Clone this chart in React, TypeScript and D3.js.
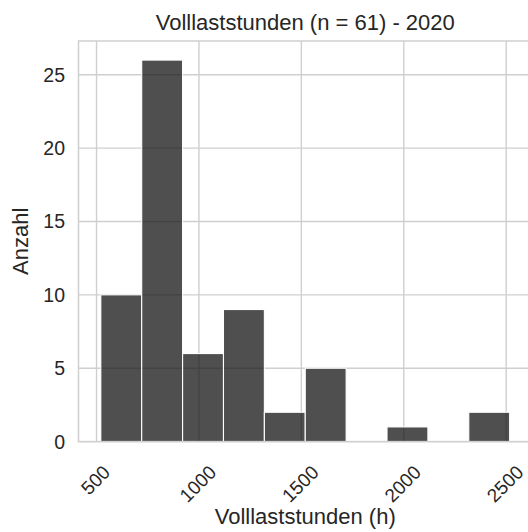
import React from "react";
import * as d3 from "d3";

// ---- data ----
const titleText = "Volllaststunden (n = 61) - 2020";
const xLabel = "Volllaststunden (h)";
const yLabel = "Anzahl";
const binStart = 521; // h
const binWidth = 199.6; // h
const counts = [10, 26, 6, 9, 2, 5, 0, 1, 0, 2];
const xTicks = [500, 1000, 1500, 2000, 2500];
const yTicks = [0, 5, 10, 15, 20, 25];
const xDomain = [412, 2626];
const yDomain = [0, 27.3];

const W = 528;
const H = 532;
const FONT = "'Liberation Sans', Arial, Helvetica, sans-serif";
const TEXT = "#262626";
const GRID = "#cfcfcf";

export default function App() {
  const left = 78.5;
  const right = 532;
  const top = 41;
  const bottom = 441.6;
  const x = d3.scaleLinear().domain(xDomain).range([left, right]);
  const y = d3.scaleLinear().domain(yDomain).range([bottom, top]);

  const bins = counts.map((c, i) => ({
    x0: binStart + i * binWidth,
    x1: binStart + (i + 1) * binWidth,
    c,
  }));

  const tickFs = 19;
  const yTickFs = 19.5;
  const labelFs = 22;

  return (
    <svg
      width={W}
      height={H}
      style={{ position: "absolute", left: 0, top: 0, background: "#fff" }}
      fontFamily={FONT}
    >
      <rect x={0} y={0} width={W} height={H} fill="#fff" />
      {/* grid */}
      {xTicks.map((t) => (
        <line key={"gx" + t} x1={x(t)} x2={x(t)} y1={top} y2={bottom} stroke={GRID} strokeWidth={1.4} />
      ))}
      {yTicks.map((t) => (
        <line key={"gy" + t} x1={left} x2={right} y1={y(t)} y2={y(t)} stroke={GRID} strokeWidth={1.4} />
      ))}
      {/* bars */}
      {bins.map((b, i) =>
        b.c > 0 ? (
          <rect
            key={i}
            x={x(b.x0)}
            y={y(b.c)}
            width={x(b.x1) - x(b.x0)}
            height={y(0) - y(b.c)}
            fill="#141414"
            fillOpacity={0.75}
            stroke="#fff"
            strokeWidth={1.1}
          />
        ) : null
      )}
      {/* spines */}
      <rect x={left} y={top} width={right - left} height={bottom - top} fill="none" stroke={GRID} strokeWidth={1.5} />
      {/* y tick labels */}
      {yTicks.map((t) => (
        <text
          key={"yt" + t}
          x={65}
          y={y(t)}
          textAnchor="end"
          dominantBaseline="central"
          fontSize={yTickFs}
          fill={TEXT}
        >
          {t}
        </text>
      ))}
      {/* x tick labels rotated 45 */}
      {xTicks.map((t) => {
        const label = String(t);
        const w = label.length * 0.556 * tickFs;
        const h = 0.75 * tickFs;
        const cy = 464 + (w + h) * 0.3536;
        return (
          <text
            key={"xt" + t}
            transform={`translate(${x(t) - 1},${cy}) rotate(-45)`}
            textAnchor="middle"
            dominantBaseline="central"
            fontSize={tickFs}
            fill={TEXT}
          >
            {label}
          </text>
        );
      })}
      {/* axis labels */}
      <text x={(left + right) / 2} y={524} textAnchor="middle" fontSize={labelFs} fill={TEXT}>
        {xLabel}
      </text>
      <text
        transform={`translate(20,${(top + bottom) / 2}) rotate(-90)`}
        textAnchor="middle"
        dominantBaseline="central"
        fontSize={labelFs}
        fill={TEXT}
      >
        {yLabel}
      </text>
      <text x={(left + right) / 2} y={30} textAnchor="middle" fontSize={labelFs} fill={TEXT}>
        {titleText}
      </text>
    </svg>
  );
}
